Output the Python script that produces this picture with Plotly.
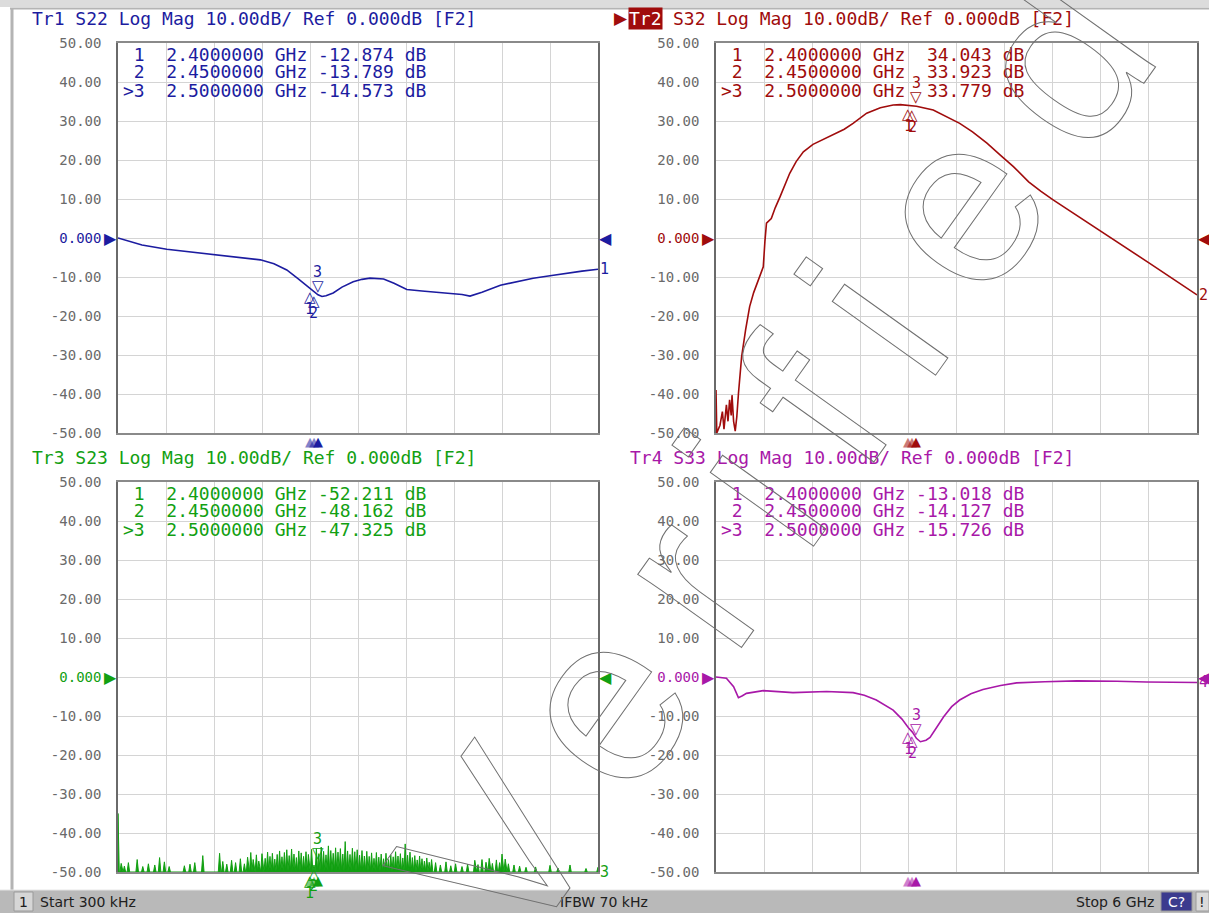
import numpy as np
import plotly.graph_objects as go

W, H = 1209, 913

# ---------------- data ----------------
START_GHZ = 0.0003
STOP_GHZ = 6.0
REF_TOP, REF_BOT, DB_PER_DIV = 50.0, -50.0, 10.0
N_XDIV = 10

marker_freq = [2.40, 2.45, 2.50]
marker_name = ["1", "2", ">3"]

trace_ids = ["Tr1", "Tr2", "Tr3", "Tr4"]
params = ["S22", "S32", "S23", "S33"]
colors = ["#1c1ca0", "#a00c0c", "#12a012", "#a818a8"]

# Tr1 S22 (dB)
s22_f = [0.0003, 0.13, 0.30, 0.61, 0.90, 1.19, 1.50, 1.78, 1.95, 2.11, 2.25, 2.33,
         2.40, 2.45, 2.50, 2.55, 2.60, 2.69, 2.80, 2.94, 3.05, 3.15, 3.32, 3.45,
         3.61, 3.80, 3.94, 4.19, 4.30, 4.40, 4.55, 4.78, 5.00, 5.19, 5.40, 5.61,
         5.80, 6.0]
s22_db = [0.0, -0.8, -1.8, -2.9, -3.6, -4.2, -4.9, -5.6, -6.6, -8.2, -10.4, -11.8,
          -12.874, -13.789, -14.573, -15.0, -14.8, -14.1, -12.6, -11.2, -10.6, -10.3, -10.5, -11.6,
          -13.2, -13.6, -13.8, -14.2, -14.5, -14.9, -13.9, -12.1, -11.2, -10.3, -9.7, -9.0,
          -8.5, -8.0]

# Tr2 S32 (dB)
s32_f = [0.0003, 0.0004, 0.01, 0.05, 0.08, 0.10, 0.13, 0.15, 0.17, 0.19, 0.20, 0.22,
         0.24, 0.26, 0.28, 0.32, 0.37, 0.42, 0.47, 0.53, 0.59, 0.61, 0.63, 0.69,
         0.74, 0.80, 0.92, 1.00, 1.09, 1.21, 1.46, 1.60, 1.71, 1.88, 2.05, 2.21,
         2.30, 2.40, 2.45, 2.50, 2.71, 2.90, 3.04, 3.20, 3.38, 3.55, 3.71, 3.90,
         4.05, 4.21, 4.50, 4.79, 5.10, 5.41, 5.70, 6.0]
s32_db = [-50.0, -39.0, -50.0, -48.0, -44.5, -49.0, -42.8, -47.0, -41.5, -45.5, -40.3, -47.0,
          -49.5, -45.8, -40.0, -30.4, -23.5, -17.6, -14.0, -10.8, -7.4, -1.0, 3.8, 5.0,
          7.8, 10.6, 16.6, 19.6, 22.1, 24.0, 26.4, 27.9, 29.4, 32.0, 33.4, 34.1,
          34.2, 34.043, 33.923, 33.779, 32.8, 30.8, 29.4, 27.2, 24.3, 21.2, 18.3, 14.4,
          12.0, 9.7, 5.8, 2.05, -2.3, -6.5, -10.5, -14.6]

# Tr3 S23 noise spikes above the -50 dB floor
s23_spike_f = [0.0003, 0.04, 0.08, 0.13, 0.24, 0.31, 0.38, 0.46, 0.52, 0.58, 0.64, 0.83,
               0.90, 0.96, 1.06, 1.27, 1.31, 1.36, 1.42, 1.47, 1.53, 1.58,
               1.62, 1.66, 1.69, 1.73, 1.76, 1.80, 1.84, 1.87, 1.90, 1.93, 1.96, 1.99,
               2.02, 2.05, 2.08, 2.11, 2.14, 2.17, 2.20, 2.23, 2.26, 2.29, 2.32, 2.35,
               2.38, 2.42, 2.45, 2.48, 2.51, 2.54, 2.57, 2.60, 2.63, 2.66, 2.69, 2.72,
               2.75, 2.78, 2.81, 2.84, 2.87, 2.90, 2.93, 2.96, 2.99, 3.02, 3.05, 3.08,
               3.11, 3.14, 3.17, 3.20, 3.23, 3.26, 3.29, 3.32, 3.35, 3.38, 3.41, 3.44,
               3.47, 3.50, 3.53, 3.56, 3.59, 3.62, 3.65, 3.68, 3.71, 3.74, 3.77, 3.80,
               3.83, 3.86, 3.89, 3.92,
               3.97, 4.03, 4.10, 4.16, 4.22, 4.30, 4.37, 4.46, 4.50, 4.55, 4.60, 4.64,
               4.68, 4.73, 4.77, 4.80, 4.84, 4.88, 4.95, 5.02, 5.10, 5.22, 5.40, 5.50,
               5.65, 5.85, 6.0]
s23_spike_db = [-35.0, -47.8, -48.5, -47.6, -46.8, -48.6, -47.9, -48.2, -46.3, -47.4, -48.6, -48.4,
                -48.0, -47.6, -45.8, -45.2, -47.3, -48.0, -47.0, -47.6, -46.6, -47.9,
                -46.2, -45.0, -46.8, -45.6, -47.2, -45.3, -46.5, -44.9, -46.0, -45.2, -46.7, -45.5,
                -44.6, -46.1, -45.0, -44.3, -45.8, -44.1, -45.4, -46.3, -44.6, -45.1, -46.0, -44.8,
                -45.5, -44.2, -48.2, -44.0, -45.3, -43.6, -44.7, -45.6, -43.3, -44.5, -45.2, -43.8,
                -44.9, -44.0, -45.4, -42.2, -44.6, -45.5, -43.9, -44.8, -44.3, -45.7, -44.5, -45.9,
                -44.7, -46.0, -45.1, -46.5, -45.0, -46.2, -45.4, -46.6, -45.2, -46.8, -45.6, -46.1,
                -44.8, -45.9, -45.3, -46.4, -42.8, -45.7, -44.9, -46.3, -45.8, -46.9, -45.9, -46.6,
                -47.2, -46.4, -47.5, -46.8,
                -47.6, -48.2, -47.4, -48.4, -47.9, -48.6, -48.0, -47.0, -48.1, -46.8, -47.5, -46.5,
                -47.8, -46.9, -47.6, -45.4, -46.7, -47.9, -48.2, -48.5, -48.8, -48.7, -48.3, -49.0,
                -48.2, -49.1, -48.8]

# Tr4 S33 (dB)
s33_f = [0.0003, 0.13, 0.22, 0.28, 0.33, 0.38, 0.59, 0.96, 1.38, 1.71, 1.85, 2.0,
         2.21, 2.32, 2.40, 2.45, 2.50, 2.55, 2.62, 2.67, 2.75, 2.84, 2.94, 3.04,
         3.18, 3.33, 3.55, 3.75, 4.10, 4.50, 5.00, 5.37, 6.0]
s33_db = [0.0, -0.3, -2.5, -5.3, -4.8, -4.2, -3.5, -4.0, -3.7, -4.0, -4.7, -5.9,
          -8.5, -10.8, -13.018, -14.127, -15.726, -16.6, -16.2, -15.5, -13.0, -10.2, -7.6, -5.9,
          -4.3, -3.2, -2.2, -1.5, -1.2, -1.0, -1.1, -1.3, -1.4]

s22_mk = [-12.874, -13.789, -14.573]
s32_mk = [34.043, 33.923, 33.779]
s23_mk = [-52.211, -48.162, -47.325]
s33_mk = [-13.018, -14.127, -15.726]

status_left = "Start 300 kHz"
status_mid = "IFBW 70 kHz"
status_right = "Stop 6 GHz"
watermark = "Verified"

# ---------------- layout helpers ----------------
def PX(x):
    return x / W

def PY(y):
    return 1 - y / H

panels_px = [(118, 598, 43, 433), (716, 1197, 43, 433),
             (118, 598, 482, 872), (716, 1197, 482, 872)]
title_px = [(30, 18), (628, 18), (30, 457), (628, 457)]

MONO = "DejaVu Sans Mono"
SANS = "DejaVu Sans"
NB = "\u00a0"

fig = go.Figure()
annotations = []
shapes = []

# window frame and status bar
shapes.append(dict(type="rect", xref="paper", yref="paper", x0=0, x1=1, y0=PY(0), y1=PY(7),
                   fillcolor="#dcdcdc", line_width=0, layer="below"))
shapes.append(dict(type="line", xref="paper", yref="paper", x0=PX(10), x1=1, y0=PY(8.5), y1=PY(8.5),
                   line=dict(color="#b4b4b4", width=2), layer="below"))
shapes.append(dict(type="line", xref="paper", yref="paper", x0=PX(12), x1=PX(12), y0=PY(8), y1=PY(890),
                   line=dict(color="#b4b4b4", width=3), layer="below"))
shapes.append(dict(type="rect", xref="paper", yref="paper", x0=0, x1=1, y0=0, y1=PY(890),
                   fillcolor="#b9b9b9", line_width=0, layer="below"))
shapes.append(dict(type="line", xref="paper", yref="paper", x0=0, x1=1, y0=PY(890), y1=PY(890),
                   line=dict(color="#e6e6e6", width=1), layer="below"))
shapes.append(dict(type="rect", xref="paper", yref="paper", x0=PX(14), x1=PX(33), y0=PY(911), y1=PY(892),
                   fillcolor="#d6d6d6", line=dict(color="#9a9a9a", width=1), layer="below"))
shapes.append(dict(type="rect", xref="paper", yref="paper", x0=PX(1161), x1=PX(1192), y0=PY(911), y1=PY(892),
                   fillcolor="#3b3b8e", line=dict(color="#9a9a9a", width=1), layer="below"))
shapes.append(dict(type="rect", xref="paper", yref="paper", x0=PX(1196), x1=1, y0=PY(911), y1=PY(892),
                   fillcolor="#dadada", line=dict(color="#9a9a9a", width=1), layer="below"))

def stat(text, x, anchor, color="#202020"):
    annotations.append(dict(text=text, xref="paper", yref="paper", x=PX(x), y=PY(902),
                            xanchor=anchor, yanchor="middle", showarrow=False,
                            font=dict(family=SANS, size=14, color=color)))

stat("1", 23.5, "center")
stat(status_left, 38, "left")
stat(status_mid, 604, "center")
stat(status_right, 1156, "right")
stat("C?", 1176.5, "center", "#ffffff")
stat("!", 1202, "center")

trace_f = [s22_f, s32_f, None, s33_f]
trace_db = [s22_db, s32_db, None, s33_db]
marks = [s22_mk, s32_mk, s23_mk, s33_mk]

ytick_vals = list(np.arange(REF_BOT, REF_TOP + DB_PER_DIV / 2, DB_PER_DIV))
xgrid_vals = list(np.linspace(START_GHZ, STOP_GHZ, N_XDIV + 1))

for i in range(4):
    xa = "x" if i == 0 else f"x{i+1}"
    ya = "y" if i == 0 else f"y{i+1}"
    xl, xr, yt, yb = panels_px[i]
    col = colors[i]

    if trace_f[i] is not None:
        fig.add_trace(go.Scatter(x=trace_f[i], y=trace_db[i], mode="lines",
                                 line=dict(color=col, width=1.6), xaxis=xa, yaxis=ya,
                                 showlegend=False, hoverinfo="skip"))
        last_db = trace_db[i][-1]
    else:
        hw = 0.016
        xs, ys = [START_GHZ], [REF_BOT]
        for f, v in zip(s23_spike_f, s23_spike_db):
            xs += [max(START_GHZ, f - hw), f, min(STOP_GHZ, f + hw)]
            ys += [REF_BOT, v, REF_BOT]
        xs.append(STOP_GHZ)
        ys.append(REF_BOT)
        fig.add_trace(go.Scatter(x=xs, y=ys, mode="lines", fill="toself", fillcolor=col,
                                 line=dict(color=col, width=1), xaxis=xa, yaxis=ya,
                                 showlegend=False, hoverinfo="skip"))
        last_db = REF_BOT

    ticktext = []
    for v in ytick_vals:
        if abs(v) < 1e-9:
            ticktext.append(f'<span style="color:{col}">0.000</span>')
        else:
            ticktext.append(f"{v:.2f}")

    fig.layout[("xaxis" if i == 0 else f"xaxis{i+1}")] = dict(
        domain=[PX(xl), PX(xr)], range=[START_GHZ, STOP_GHZ], anchor=ya, automargin=False,
        tickvals=xgrid_vals, showticklabels=False, ticks="",
        showgrid=True, gridcolor="#d4d4d4", gridwidth=1, zeroline=False,
        showline=True, mirror=True, linecolor="#8a8a8a", linewidth=1.5)
    fig.layout[("yaxis" if i == 0 else f"yaxis{i+1}")] = dict(
        domain=[PY(yb), PY(yt)], range=[REF_BOT, REF_TOP], anchor=xa, automargin=False,
        tickvals=ytick_vals, ticktext=ticktext, ticks="outside", ticklen=12,
        tickcolor="rgba(0,0,0,0)",
        tickfont=dict(family=MONO, size=14, color="#6a6a6a"),
        showgrid=True, gridcolor="#d4d4d4", gridwidth=1, zeroline=False,
        showline=True, mirror=True, linecolor="#6a6a6a", linewidth=1.5)

    # title
    tx, ty = title_px[i]
    rest = f"{params[i]} Log Mag 10.00dB/ Ref 0.000dB [F2]"
    if i == 1:
        annotations.append(dict(text="▶", xref="paper", yref="paper", x=PX(612), y=PY(ty),
                                xanchor="left", yanchor="middle", showarrow=False,
                                font=dict(family=SANS, size=17, color=col)))
        annotations.append(dict(text=trace_ids[i], xref="paper", yref="paper", x=PX(tx), y=PY(ty),
                                xanchor="left", yanchor="middle", showarrow=False,
                                bgcolor=col, borderpad=0,
                                font=dict(family=MONO, size=18, color="#ffffff")))
        annotations.append(dict(text=rest, xref="paper", yref="paper", x=PX(tx + 4 * 10.84), y=PY(ty),
                                xanchor="left", yanchor="middle", showarrow=False,
                                font=dict(family=MONO, size=18, color=col)))
    else:
        annotations.append(dict(text=trace_ids[i] + NB + rest.replace(" ", NB),
                                xref="paper", yref="paper", x=PX(tx), y=PY(ty),
                                xanchor="left", yanchor="middle", showarrow=False,
                                font=dict(family=MONO, size=18, color=col)))

    # marker readout table
    for k in range(3):
        lab = marker_name[k].rjust(2)
        row = f"{lab}  {marker_freq[k]:.7f} GHz {marks[i][k]:7.3f} dB"
        annotations.append(dict(text=row.replace(" ", NB), xref="paper", yref="paper",
                                x=PX(xl + 3), y=PY(yt + 11 + 18 * k),
                                xanchor="left", yanchor="middle", showarrow=False,
                                font=dict(family=MONO, size=18, color=col)))

    # markers on trace
    for k in range(3):
        f = marker_freq[k]
        v = max(marks[i][k], REF_BOT)
        if k == 2:
            annotations.append(dict(text="▽", xref=xa, yref=ya, x=f, y=v, xanchor="center",
                                    yanchor="bottom", showarrow=False, yshift=-2,
                                    font=dict(family=SANS, size=15, color=col)))
            annotations.append(dict(text="3", xref=xa, yref=ya, x=f, y=v, xanchor="center",
                                    yanchor="bottom", showarrow=False, yshift=12,
                                    font=dict(family=MONO, size=15, color=col)))
        else:
            annotations.append(dict(text="△", xref=xa, yref=ya, x=f, y=v, xanchor="center",
                                    yanchor="top", showarrow=False, yshift=2,
                                    font=dict(family=SANS, size=15, color=col)))
            annotations.append(dict(text=marker_name[k], xref=xa, yref=ya, x=f, y=v, xanchor="center",
                                    yanchor="top", showarrow=False, yshift=-10,
                                    font=dict(family=MONO, size=15, color=col)))
        # stimulus marker at bottom edge
        annotations.append(dict(text="▲", xref=xa, yref=f"{ya} domain", x=f, y=0,
                                xanchor="center", yanchor="top", showarrow=False, yshift=1,
                                opacity=1.0 if k == 2 else 0.55,
                                font=dict(family=SANS, size=13, color=col)))

    # reference level arrows
    annotations.append(dict(text="▶", xref=f"{xa} domain", yref=ya, x=0, y=0, xanchor="right",
                            yanchor="middle", showarrow=False, xshift=1,
                            font=dict(family=SANS, size=16, color=col)))
    annotations.append(dict(text="◀", xref=f"{xa} domain", yref=ya, x=1, y=0, xanchor="left",
                            yanchor="middle", showarrow=False, xshift=-1,
                            font=dict(family=SANS, size=16, color=col)))
    # trace number at right end
    annotations.append(dict(text=str(i + 1), xref=f"{xa} domain", yref=ya, x=1, y=last_db,
                            xanchor="left", yanchor="middle", showarrow=False,
                            font=dict(family=MONO, size=15, color=col)))

# watermark
annotations.append(dict(
    text=f'<span style="fill:none;stroke:#707070;stroke-width:1px;letter-spacing:45px">{watermark}</span>',
    xref="paper", yref="paper", x=PX(786), y=PY(442), xanchor="center", yanchor="middle",
    showarrow=False, textangle=-54.5,
    font=dict(family="Liberation Sans", size=240, color="rgba(0,0,0,0)")))

fig.update_layout(width=W, height=H, margin=dict(l=0, r=0, t=0, b=0, pad=0, autoexpand=False),
                  paper_bgcolor="#ffffff", plot_bgcolor="#ffffff",
                  annotations=annotations, shapes=shapes, showlegend=False)

post = ("document.documentElement.style.margin='0';document.documentElement.style.padding='0';"
        "document.body.style.margin='0';document.body.style.padding='0';"
        "document.body.style.overflow='hidden';"
        "var d=document.querySelector('.plotly-graph-div');"
        "d.style.position='absolute';d.style.top='0px';d.style.left='0px';")
fig.write_html("out.html", config={"displayModeBar": False}, post_script=post)
